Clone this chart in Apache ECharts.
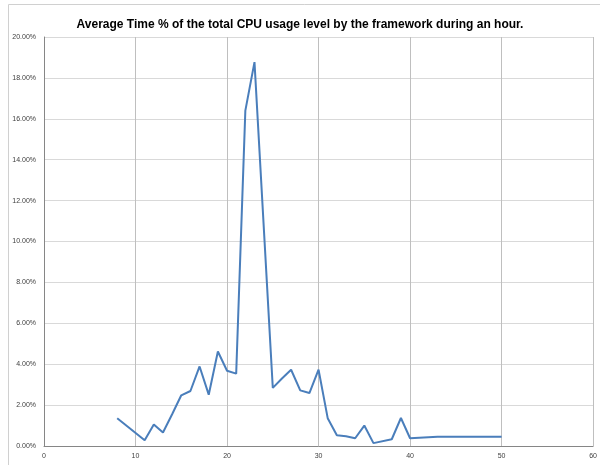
<!DOCTYPE html>
<html><head><meta charset="utf-8">
<script src="https://cdn.jsdelivr.net/npm/echarts@6/dist/echarts.min.js"></script>
<style>html,body{margin:0;padding:0;background:#fff}#c{width:600px;height:465px}</style>
</head><body><div id="c"></div>
<script>
const titleText = 'Average Time % of the total CPU usage level by the framework during an hour.';
const minutes = [8, 11, 12, 13, 14, 15, 16, 17, 18, 19, 20, 21, 22, 23, 25, 26, 27, 28, 29, 30, 31, 32, 33, 34, 35, 36, 38, 39, 40, 43, 50];
const cpuPercent = [1.36, 0.28, 1.05, 0.66, 1.55, 2.48, 2.69, 3.89, 2.51, 4.62, 3.68, 3.54, 16.4, 18.77, 2.84, 3.3, 3.73, 2.72, 2.59, 3.73, 1.36, 0.53, 0.48, 0.38, 1.0, 0.14, 0.33, 1.37, 0.38, 0.45, 0.45];

const chart = echarts.init(document.getElementById('c'), null, {renderer: 'canvas'});
chart.setOption({
  animation: false,
  backgroundColor: '#fff',
  title: {
    text: titleText, left: 'center', top: 14,
    textStyle: {fontFamily: 'Liberation Sans, sans-serif', fontWeight: 'bold', fontSize: 12, color: '#000'}
  },
  graphic: [{type: 'rect', shape: {x: 8.5, y: 4.5, width: 620, height: 480}, style: {fill: null, stroke: '#d0d0d0', lineWidth: 1}, silent: true}],
  grid: {left: 44, right: 5, top: 37, bottom: 19},
  xAxis: {
    type: 'value', min: 0, max: 60, interval: 10,
    axisLine: {show: true, lineStyle: {color: '#868686'}},
    axisTick: {show: false},
    splitLine: {show: true, lineStyle: {color: '#bfbfbf'}},
    axisLabel: {fontSize: 7, color: '#404040', fontFamily: 'Liberation Sans, sans-serif', margin: 7}
  },
  yAxis: {
    type: 'value', min: 0, max: 20, interval: 2,
    axisLine: {show: true, lineStyle: {color: '#868686'}},
    axisTick: {show: false},
    splitLine: {show: true, lineStyle: {color: '#d9d9d9'}},
    axisLabel: {fontSize: 7, color: '#404040', fontFamily: 'Liberation Sans, sans-serif', margin: 8,
      formatter: v => v.toFixed(2) + '%'}
  },
  series: [{
    type: 'line', data: minutes.map((m, i) => [m, cpuPercent[i]]),
    showSymbol: false, lineStyle: {color: '#4a7ebb', width: 2}, itemStyle: {color: '#4a7ebb'}
  }]
});
</script></body></html>
